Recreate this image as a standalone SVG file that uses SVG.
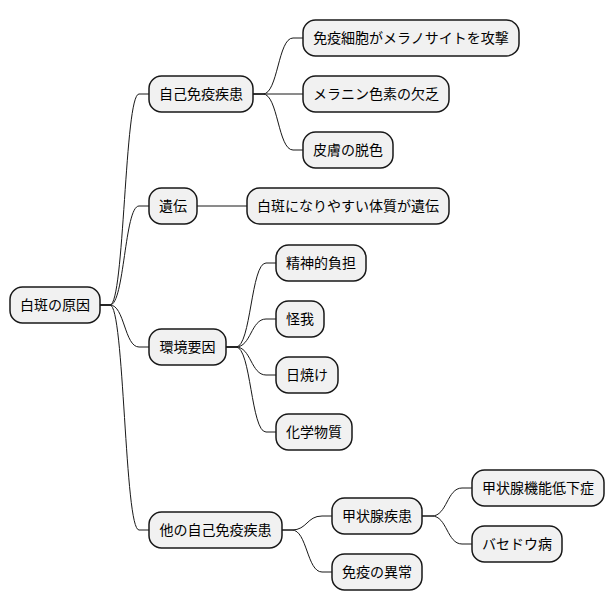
<svg xmlns="http://www.w3.org/2000/svg" width="614" height="612" viewBox="0 0 614 612">
<style>
.n rect{fill:#F1F1F1;stroke:#181818;stroke-width:1.5}
.n text{font-family:"Noto Sans CJK JP","Noto Sans",sans-serif;font-size:14px;fill:#000;text-anchor:middle}
.c path{fill:none;stroke:#181818;stroke-width:1}
</style>
<rect width="614" height="612" fill="#FFFFFF"/>
<g class="c">
<path d="M100,305 L110,305 C124.5,305 124.5,94 139,94 L149,94"/>
<path d="M100,305 L110,305 C124.5,305 124.5,206 139,206 L149,206"/>
<path d="M100,305 L110,305 C124.5,305 124.5,347 139,347 L149,347"/>
<path d="M100,305 L110,305 C124.5,305 124.5,530 139,530 L149,530"/>
<path d="M253,94 L263,94 C278,94 278,38 293,38 L303,38"/>
<path d="M253,94 L303,94"/>
<path d="M253,94 L263,94 C278,94 278,150 293,150 L303,150"/>
<path d="M197,206 L247,206"/>
<path d="M226,347 L236,347 C251,347 251,263 266,263 L276,263"/>
<path d="M226,347 L236,347 C251,347 251,319 266,319 L276,319"/>
<path d="M226,347 L236,347 C251,347 251,375 266,375 L276,375"/>
<path d="M226,347 L236,347 C251,347 251,432 266,432 L276,432"/>
<path d="M282,530 L292,530 C307,530 307,516 322,516 L332,516"/>
<path d="M282,530 L292,530 C307,530 307,572 322,572 L332,572"/>
<path d="M422,516 L432,516 C447,516 447,488 462,488 L472,488"/>
<path d="M422,516 L432,516 C447,516 447,544 462,544 L472,544"/>
</g>
<g id="root" class="n"><rect x="10" y="287" width="90" height="36" rx="12.5"/><text x="55" y="310">白斑の原因</text></g>
<g id="n1" class="n"><rect x="149" y="76" width="104" height="36" rx="12.5"/><text x="201" y="99">自己免疫疾患</text></g>
<g id="n11" class="n"><rect x="303" y="20" width="216" height="36" rx="12.5"/><text x="411" y="43">免疫細胞がメラノサイトを攻撃</text></g>
<g id="n12" class="n"><rect x="303" y="76" width="146" height="36" rx="12.5"/><text x="376" y="99">メラニン色素の欠乏</text></g>
<g id="n13" class="n"><rect x="303" y="132" width="90" height="36" rx="12.5"/><text x="348" y="155">皮膚の脱色</text></g>
<g id="n2" class="n"><rect x="149" y="188" width="48" height="36" rx="12.5"/><text x="173" y="211">遺伝</text></g>
<g id="n21" class="n"><rect x="247" y="188" width="202" height="36" rx="12.5"/><text x="348" y="211">白斑になりやすい体質が遺伝</text></g>
<g id="n3" class="n"><rect x="149" y="329" width="77" height="36" rx="12.5"/><text x="187.5" y="352">環境要因</text></g>
<g id="n31" class="n"><rect x="276" y="245" width="90" height="36" rx="12.5"/><text x="321" y="268">精神的負担</text></g>
<g id="n32" class="n"><rect x="276" y="301" width="48" height="36" rx="12.5"/><text x="300" y="324">怪我</text></g>
<g id="n33" class="n"><rect x="276" y="357" width="62" height="36" rx="12.5"/><text x="307" y="380">日焼け</text></g>
<g id="n34" class="n"><rect x="276" y="414" width="76" height="36" rx="12.5"/><text x="314" y="437">化学物質</text></g>
<g id="n4" class="n"><rect x="149" y="512" width="133" height="36" rx="12.5"/><text x="215.5" y="535">他の自己免疫疾患</text></g>
<g id="n41" class="n"><rect x="332" y="498" width="90" height="36" rx="12.5"/><text x="377" y="521">甲状腺疾患</text></g>
<g id="n411" class="n"><rect x="472" y="470" width="132" height="36" rx="12.5"/><text x="538" y="493">甲状腺機能低下症</text></g>
<g id="n412" class="n"><rect x="472" y="526" width="90" height="36" rx="12.5"/><text x="517" y="549">バセドウ病</text></g>
<g id="n42" class="n"><rect x="332" y="554" width="90" height="36" rx="12.5"/><text x="377" y="577">免疫の異常</text></g>
</svg>
